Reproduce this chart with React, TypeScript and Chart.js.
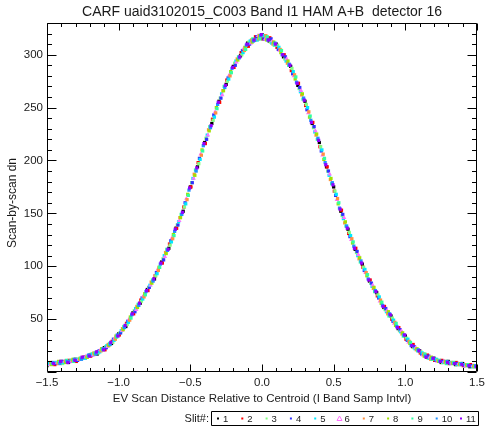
import React, { useEffect, useRef } from 'react';
import { Chart, registerables } from 'chart.js';

Chart.register(...registerables);

const FONT = '"Liberation Sans", Arial, sans-serif';
const INK = '#1a1a1a';

const TITLE = 'CARF uaid3102015_C003 Band I1 HAM A+B  detector 16';
const X_TITLE = 'EV Scan Distance Relative to Centroid (I Band Samp Intvl)';
const Y_TITLE = 'Scan-by-scan dn';
const LEGEND_TITLE = 'Slit#:';

const X_MIN = -1.5;
const X_MAX = 1.5;
const Y_MIN = 0;
const Y_MAX = 330;

const SLITS = ['1', '2', '3', '4', '5', '6', '7', '8', '9', '10', '11'];
const SLIT_COLORS = [
  '#000000', '#ff0000', '#80ff80', '#3030ff', '#00e8ff', '#ff70ff',
  '#ff9040', '#a0e000', '#30ffa0', '#2090ff', '#9000ff',
];
const SLIT_STYLES = ['rect', 'rect', 'rect', 'rect', 'rect', 'triangle', 'rect', 'rect', 'rect', 'rect', 'rect'];

// sample position offset of each slit relative to the common grid
const SLIT_DX = [0, 0.0045, 0.009, 0.0135, 0.018, 0.0225, 0.027, 0.0315, 0.036, 0.0405, 0.045];

const X_GRID = [
  -1.5, -1.45, -1.4, -1.35, -1.3, -1.25, -1.2, -1.15, -1.1, -1.05,
  -1.0, -0.95, -0.9, -0.85, -0.8, -0.75, -0.7, -0.65, -0.6, -0.55,
  -0.5, -0.45, -0.4, -0.35, -0.3, -0.25, -0.2, -0.15, -0.1, -0.05,
  0.0, 0.05, 0.1, 0.15, 0.2, 0.25, 0.3, 0.35, 0.4, 0.45,
  0.5, 0.55, 0.6, 0.65, 0.7, 0.75, 0.8, 0.85, 0.9, 0.95,
  1.0, 1.05, 1.1, 1.15, 1.2, 1.25, 1.3, 1.35, 1.4, 1.45, 1.5,
];

const SLIT_1 = [6, 8, 10, 9, 12, 13, 16, 17, 23, 27, 36, 43, 56, 65, 78, 88, 104, 117, 136, 152, 175, 194, 217, 235, 256, 272, 289, 299, 311, 314, 319, 313, 310, 298, 289, 271, 256, 235, 217, 194, 175, 152, 135, 116, 102, 86, 75, 61, 53, 41, 34, 24, 20, 14, 13, 9, 10, 7, 8, 5, 6];
const SLIT_2 = [8, 7, 9, 11, 10, 14, 15, 19, 21, 29, 35, 46, 55, 68, 77, 91, 103, 121, 136, 156, 175, 198, 216, 239, 255, 276, 288, 302, 308, 317, 315, 316, 307, 300, 285, 273, 252, 236, 213, 194, 171, 153, 131, 117, 99, 87, 72, 62, 50, 42, 31, 26, 18, 16, 11, 11, 8, 9, 6, 7, 4];
const SLIT_3 = [7, 9, 8, 10, 12, 13, 17, 18, 24, 28, 37, 45, 58, 67, 80, 91, 107, 120, 139, 156, 179, 197, 221, 238, 259, 275, 292, 300, 312, 314, 318, 312, 309, 296, 287, 268, 253, 231, 213, 190, 171, 148, 132, 113, 99, 84, 73, 59, 51, 39, 32, 23, 19, 13, 12, 9, 9, 7, 7, 6, 5];
const SLIT_4 = [8, 8, 10, 10, 11, 14, 16, 20, 23, 31, 37, 48, 57, 70, 80, 94, 106, 124, 139, 160, 179, 202, 220, 243, 259, 278, 290, 304, 310, 317, 315, 315, 305, 298, 282, 269, 248, 232, 209, 190, 167, 149, 128, 114, 96, 84, 70, 60, 48, 40, 30, 24, 17, 15, 11, 10, 8, 8, 6, 6, 5];
const SLIT_5 = [8, 9, 9, 11, 12, 13, 17, 19, 25, 30, 39, 47, 60, 69, 82, 93, 110, 123, 142, 159, 183, 201, 224, 241, 263, 277, 294, 302, 313, 314, 318, 311, 307, 294, 284, 265, 250, 227, 210, 186, 168, 145, 129, 110, 97, 81, 71, 57, 49, 38, 31, 22, 18, 13, 12, 9, 9, 7, 7, 5, 6];
const SLIT_6 = [7, 9, 10, 10, 12, 15, 16, 21, 24, 32, 39, 50, 59, 72, 82, 97, 109, 127, 143, 164, 183, 206, 224, 246, 262, 281, 293, 306, 311, 318, 315, 313, 304, 296, 280, 266, 245, 228, 205, 187, 163, 146, 125, 111, 94, 82, 67, 58, 46, 39, 28, 23, 16, 14, 10, 10, 8, 8, 6, 6, 4];
const SLIT_7 = [9, 8, 10, 11, 12, 14, 18, 20, 26, 31, 41, 49, 62, 71, 85, 96, 113, 126, 146, 163, 187, 205, 229, 245, 266, 280, 296, 304, 314, 315, 318, 310, 305, 292, 281, 262, 246, 224, 206, 182, 164, 141, 126, 107, 94, 79, 68, 55, 47, 36, 29, 21, 17, 12, 11, 9, 9, 7, 7, 5, 5];
const SLIT_8 = [7, 10, 9, 12, 13, 14, 17, 22, 25, 34, 40, 52, 61, 74, 84, 99, 112, 130, 146, 168, 186, 210, 228, 250, 266, 284, 295, 307, 312, 318, 314, 312, 302, 294, 277, 263, 241, 225, 201, 183, 159, 142, 122, 108, 91, 80, 65, 57, 44, 37, 27, 22, 15, 14, 10, 10, 8, 8, 6, 6, 4];
const SLIT_9 = [8, 9, 11, 10, 13, 15, 18, 21, 27, 33, 43, 51, 64, 73, 87, 99, 116, 129, 149, 167, 191, 209, 232, 249, 270, 283, 298, 305, 315, 315, 317, 309, 304, 290, 279, 258, 242, 220, 202, 178, 160, 138, 123, 104, 92, 76, 66, 53, 46, 34, 28, 20, 17, 12, 11, 8, 9, 7, 7, 5, 5];
const SLIT_10 = [9, 8, 10, 12, 12, 16, 17, 22, 26, 35, 42, 54, 63, 76, 86, 102, 115, 133, 149, 172, 190, 214, 231, 253, 269, 287, 297, 309, 313, 318, 314, 311, 300, 291, 274, 259, 238, 221, 198, 179, 155, 138, 119, 105, 88, 77, 63, 55, 43, 35, 25, 21, 15, 13, 10, 10, 8, 8, 6, 6, 4];
const SLIT_11 = [8, 10, 9, 11, 14, 15, 19, 21, 28, 34, 44, 55, 65, 77, 88, 103, 116, 135, 151, 174, 193, 216, 233, 255, 271, 288, 298, 310, 314, 319, 314, 310, 300, 290, 273, 257, 236, 219, 196, 177, 154, 136, 117, 103, 87, 76, 62, 54, 42, 35, 25, 20, 14, 13, 10, 9, 8, 7, 6, 5, 5];

const SLIT_VALUES = [SLIT_1, SLIT_2, SLIT_3, SLIT_4, SLIT_5, SLIT_6, SLIT_7, SLIT_8, SLIT_9, SLIT_10, SLIT_11];

const isMultiple = (v: number, step: number) => {
  const r = v / step;
  return Math.abs(r - Math.round(r)) < 1e-6;
};

const framePlugin = {
  id: 'idlFrame',
  afterDraw(chart: any) {
    const { ctx, chartArea: a, scales } = chart;
    const xs = scales.x;
    const ys = scales.y;
    const L = Math.round(a.left) + 0.5;
    const R = Math.round(a.right) - 0.5;
    const T = Math.round(a.top) + 0.5;
    const B = Math.round(a.bottom) - 0.5;
    ctx.save();
    ctx.strokeStyle = '#000';
    ctx.lineWidth = 1;
    ctx.beginPath();
    ctx.moveTo(L, T);
    ctx.lineTo(R, T);
    ctx.lineTo(R, B);
    ctx.lineTo(L, B);
    ctx.closePath();
    xs.ticks.forEach((t: any) => {
      const px = Math.round(xs.getPixelForValue(t.value)) + 0.5;
      const len = isMultiple(t.value, 0.5) ? 7 : 3.5;
      ctx.moveTo(px, B);
      ctx.lineTo(px, B - len);
      ctx.moveTo(px, T);
      ctx.lineTo(px, T + len);
    });
    ys.ticks.forEach((t: any) => {
      const py = Math.round(ys.getPixelForValue(t.value)) + 0.5;
      const len = isMultiple(t.value, 50) ? 9 : 4.5;
      ctx.moveTo(L, py);
      ctx.lineTo(L + len, py);
      ctx.moveTo(R, py);
      ctx.lineTo(R - len, py);
    });
    ctx.stroke();

    ctx.fillStyle = INK;
    const cx = (a.left + a.right) / 2;
    ctx.textAlign = 'center';
    ctx.textBaseline = 'middle';
    ctx.font = `14px ${FONT}`;
    ctx.fillText(TITLE, cx, 12.5);
    ctx.font = `11.5px ${FONT}`;
    ctx.fillText(X_TITLE, cx, 398.5);
    ctx.save();
    ctx.translate(12.5, 203);
    ctx.rotate(-Math.PI / 2);
    ctx.font = `12px ${FONT}`;
    ctx.fillText(Y_TITLE, 0, 0);
    ctx.restore();

    const boxL = 211.5, boxT = 411.5, boxW = 267, boxH = 14;
    const cy = boxT + boxH / 2;
    ctx.textAlign = 'right';
    ctx.font = `11px ${FONT}`;
    ctx.fillText(LEGEND_TITLE, 209, cy);
    ctx.beginPath();
    ctx.rect(boxL, boxT, boxW, boxH);
    ctx.stroke();
    ctx.textAlign = 'left';
    ctx.font = `9.5px ${FONT}`;
    SLITS.forEach((name, i) => {
      const mx = 218 + 24.3 * i;
      const col = SLIT_COLORS[i];
      if (SLIT_STYLES[i] === 'triangle') {
        ctx.beginPath();
        ctx.moveTo(mx, cy - 2.5);
        ctx.lineTo(mx + 2.5, cy + 2);
        ctx.lineTo(mx - 2.5, cy + 2);
        ctx.closePath();
        ctx.strokeStyle = col;
        ctx.stroke();
        ctx.strokeStyle = '#000';
      } else {
        ctx.fillStyle = col;
        ctx.fillRect(mx - 1, cy - 1, 2, 2);
      }
      ctx.fillStyle = INK;
      ctx.fillText(name, mx + 5, cy + 0.5);
    });
    ctx.restore();
  },
};

export default function App() {
  const ref = useRef<HTMLCanvasElement | null>(null);

  useEffect(() => {
    if (!ref.current) return;
    const datasets = SLIT_VALUES.map((vals, s) => ({
      label: SLITS[s],
      data: X_GRID.map((x, i) => ({ x: x + SLIT_DX[s], y: vals[i] })),
      backgroundColor: SLIT_COLORS[s],
      borderColor: SLIT_COLORS[s],
      pointStyle: SLIT_STYLES[s],
      pointRadius: SLIT_STYLES[s] === 'triangle' ? 2.6 : 2.3,
      pointBorderWidth: 0,
      pointHoverRadius: 2.3,
      order: 10 - s,
    }));

    const chart = new Chart(ref.current, {
      type: 'scatter',
      data: { datasets },
      options: {
        responsive: false,
        animation: false,
        devicePixelRatio: 1,
        events: [],
        layout: { padding: { top: 23, right: 9, left: 0, bottom: 0 } },
        plugins: {
          legend: { display: false },
          tooltip: { enabled: false },
          title: { display: false },
        },
        scales: {
          x: {
            type: 'linear',
            min: X_MIN,
            max: X_MAX,
            grid: { display: false, drawTicks: false },
            border: { display: false },
            ticks: {
              stepSize: 0.1,
              autoSkip: false,
              maxRotation: 0,
              minRotation: 0,
              padding: 4,
              color: INK,
              font: { family: FONT, size: 11.5 },
              callback: (v: any) => {
                const n = Number(v);
                if (!isMultiple(n, 0.5)) return '';
                const r = Math.round(n * 10) / 10;
                return (r < 0 ? '\u2212' : '') + Math.abs(r).toFixed(1);
              },
            },
            afterFit: (s: any) => {
              s.height = 56;
              s.paddingLeft = 0;
              s.paddingRight = 0;
            },
          },
          y: {
            type: 'linear',
            min: Y_MIN,
            max: Y_MAX,
            grid: { display: false, drawTicks: false },
            border: { display: false },
            ticks: {
              stepSize: 10,
              autoSkip: false,
              padding: 4,
              color: INK,
              font: { family: FONT, size: 11.5 },
              callback: (v: any) => {
                const n = Math.round(Number(v));
                return n > 0 && n % 50 === 0 ? String(n) : '';
              },
            },
            afterFit: (s: any) => {
              s.width = 47;
              s.paddingTop = 0;
              s.paddingBottom = 0;
            },
          },
        },
      },
      plugins: [framePlugin],
    } as any);
    return () => chart.destroy();
  }, []);

  return (
    <div style={{ position: 'absolute', left: 0, top: 0, width: 486, height: 428, background: '#fff' }}>
      <canvas ref={ref} width={486} height={428} style={{ width: 486, height: 428, display: 'block' }} />
    </div>
  );
}
